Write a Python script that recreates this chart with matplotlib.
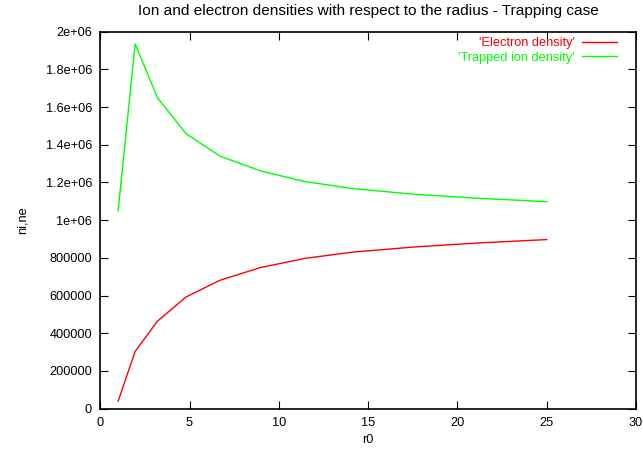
import matplotlib
matplotlib.use('Agg')
from matplotlib import pyplot as plt
from matplotlib.ticker import FuncFormatter

# values
r0 = [1.0, 1.95, 3.2, 4.8, 6.7, 8.95, 11.45, 14.1, 17.5, 21.0, 25.0]
ne = [40000, 303000, 464000, 592000, 681000, 748000, 797000, 830000, 857000, 878000, 897000]
ni = [1050000, 1935000, 1650000, 1459000, 1340000, 1262000, 1205000, 1168000, 1138000, 1117000, 1098000]

plt.rcParams['font.family'] = ['Liberation Sans', 'DejaVu Sans']
plt.rcParams['font.size'] = 9.2

fig = plt.figure(figsize=(6.43, 4.53), dpi=100)
ax = fig.add_axes([0.156, 0.098, 0.833, 0.832])

ax.plot(r0, ne, color='#ff0000', lw=1, label="'Electron density'")
ax.plot(r0, ni, color='#00ff00', lw=1, label="'Trapped ion density'")

ax.set_xlim(0, 30)
ax.set_ylim(0, 2e6)
ax.set_xticks(range(0, 31, 5))
ax.set_yticks([i * 200000 for i in range(11)])
ax.yaxis.set_major_formatter(FuncFormatter(lambda v, p: '%g' % v))
ax.tick_params(direction='in', top=True, right=True, length=5.5, width=0.8, pad=6)
for s in ax.spines.values():
    s.set_linewidth(1.2)

ax.set_title('Ion and electron densities with respect to the radius - Trapping case', pad=12)
ax.set_xlabel('r0', labelpad=4)
ax.set_ylabel('ni,ne', labelpad=12)

leg = ax.legend(loc='upper right', bbox_to_anchor=(0.9645, 0.985), frameon=False,
                markerfirst=False, labelcolor='linecolor', handlelength=2.75,
                borderaxespad=0, borderpad=0, handletextpad=0.55, labelspacing=0.2)
for t in leg.get_texts():
    t.set_ha('right')

fig.savefig('out.png', dpi=100)
